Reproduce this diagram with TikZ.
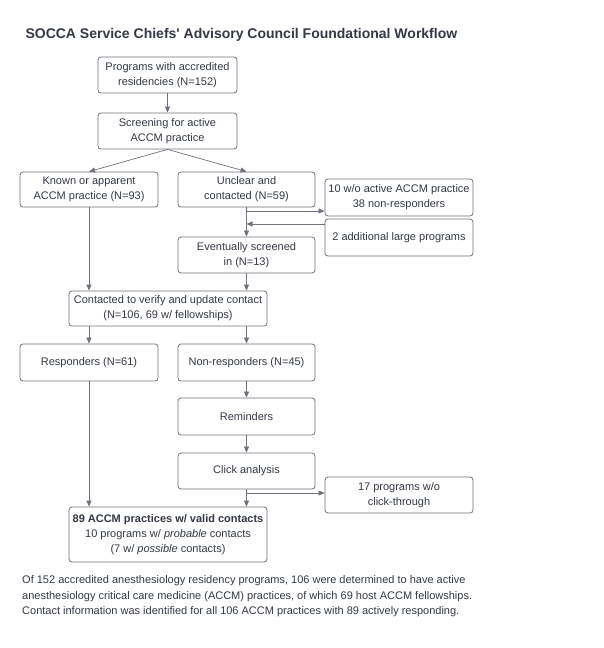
\documentclass[tikz,border=0pt]{standalone}
\usepackage{fontspec}
\setmainfont{Liberation Sans}
\usetikzlibrary{arrows.meta}
\definecolor{txtgray}{RGB}{52,57,67}
\definecolor{boxgray}{RGB}{110,115,125}
\tikzset{
    box/.style={draw=boxgray, line width=0.8pt, rounded corners=3pt, align=center,
        text=txtgray, inner sep=2pt, font=\fontsize{11}{15}\selectfont},
    link/.style={draw=boxgray, line width=0.7pt}
}
\begin{document}
\begin{tikzpicture}[x=1pt, y=-1pt, >={Triangle[length=6pt,width=5pt]}]
    \useasboundingbox[fill=white] (0,0) rectangle (604,648);
    % titolo
    \node[anchor=west, text=txtgray, font=\fontsize{14}{16}\selectfont\bfseries] (title) at (22,35)
        {SOCCA Service Chiefs\textquotesingle{} Advisory Council Foundational Workflow};
    % screening
    \node[box, minimum width=139pt, minimum height=36pt] (prog) at (167.5,75) {Programs with accredited\\residencies (N=152)};
    \node[box, minimum width=139pt, minimum height=36pt] (screen) at (167.5,131) {Screening for active\\ACCM practice};
    \node[box, minimum width=138pt, minimum height=35pt] (known) at (89,189.5) {Known or apparent\\ACCM practice (N=93)};
    \node[box, minimum width=137pt, minimum height=35pt] (unclear) at (246.5,189.5) {Unclear and\\contacted (N=59)};
    \node[box, minimum width=148pt, minimum height=37pt] (wo) at (399,197.5) {10 w/o active ACCM practice\\38 non-responders};
    \node[box, minimum width=148pt, minimum height=37pt] (add) at (399,237.5) {2 additional large programs};
    \node[box, minimum width=137pt, minimum height=36pt] (event) at (246.5,255) {Eventually screened\\in (N=13)};
    % contatto
    \node[box, minimum width=198pt, minimum height=35pt] (contact) at (168,308.5) {Contacted to verify and update contact\\(N=106, 69 w/ fellowships)};
    \node[box, minimum width=138pt, minimum height=37pt] (resp) at (89,362.5) {Responders (N=61)};
    \node[box, minimum width=137pt, minimum height=37pt] (nonresp) at (246.5,362.5) {Non-responders (N=45)};
    \node[box, minimum width=137pt, minimum height=37pt] (remind) at (246.5,416.5) {Reminders};
    \node[box, minimum width=137pt, minimum height=36pt] (click) at (246.5,471) {Click analysis};
    \node[box, minimum width=148pt, minimum height=36pt] (noclick) at (399,495) {17 programs w/o\\click-through};
    \node[box, minimum width=198pt, minimum height=55pt] (final) at (168,534.5)
        {\textbf{89 ACCM practices w/ valid contacts}\\10 programs w/ \textit{probable} contacts\\(7 w/ \textit{possible} contacts)};
    % didascalia
    \node[anchor=north west, align=left, text=txtgray, inner sep=0pt, font=\fontsize{11}{15.5}\selectfont] (caption) at (22,575.5)
        {Of 152 accredited anesthesiology residency programs, 106 were determined to have active\\
         anesthesiology critical care medicine (ACCM) practices, of which 69 host ACCM fellowships.\\
         Contact information was identified for all 106 ACCM practices with 89 actively responding.};
    \coordinate (b1) at (246.5,211);
    \coordinate (b2) at (246.5,224);
    \coordinate (b3) at (246.5,493);
    \draw[link, ->] (prog) -- (screen);
    \draw[link, ->] (screen.south) -- (known.north);
    \draw[link, ->] (screen.south) -- (unclear.north);
    \draw[link, ->] (unclear) -- (event);
    \draw[link, ->] (b1) -- (b1 -| wo.west);
    \draw[link, ->] (b2 -| add.west) -- (b2);
    \draw[link, ->] (known.south) -- (known.south |- contact.north);
    \draw[link, ->] (event.south) -- (event.south |- contact.north);
    \draw[link, ->] (resp.north |- contact.south) -- (resp.north);
    \draw[link, ->] (nonresp.north |- contact.south) -- (nonresp.north);
    \draw[link, ->] (nonresp) -- (remind);
    \draw[link, ->] (remind) -- (click);
    \draw[link, ->] (click.south) -- (click.south |- final.north);
    \draw[link, ->] (b3) -- (b3 -| noclick.west);
    \draw[link, ->] (resp.south) -- (resp.south |- final.north);
\end{tikzpicture}
\end{document}
